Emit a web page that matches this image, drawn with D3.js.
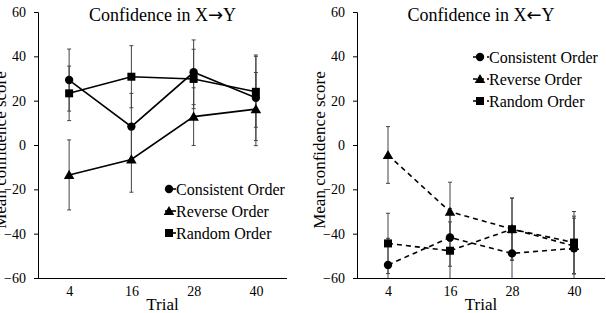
<!DOCTYPE html>
<html>
<head>
<meta charset="utf-8">
<script src="https://cdn.jsdelivr.net/npm/d3@7"></script>
<style>
  body { margin: 0; background: #fff; }
  svg text { font-family: 'Liberation Serif', 'DejaVu Serif', 'Times New Roman', serif; }
  svg text tspan.arrow { font-family: 'DejaVu Sans', sans-serif; }
</style>
</head>
<body>
<div id="chart"></div>
<script>
// data
const trials = ['4', '16', '28', '40'];
const seriesNames = ['Consistent Order', 'Reverse Order', 'Random Order'];
const yTicks = [-60, -40, -20, 0, 20, 40, 60];

// Confidence in X->Y
const fwdConsistent = [29.3, 8.3, 32.8, 21.3];
const fwdReverse = [-13.5, -6.5, 12.8, 16.2];
const fwdRandom = [23.3, 30.8, 29.8, 24.0];
const fwdConsistentErr = [14.0, 15.0, 14.6, 19.3];
const fwdReverseErr = [15.8, 14.8, 13.0, 16.5];
const fwdRandomErr = [12.3, 14.0, 13.4, 16.0];

// Confidence in X<-Y
const bwdConsistent = [-54.1, -41.7, -48.9, -46.6];
const bwdReverse = [-4.5, -30.1, -37.9, -45.6];
const bwdRandom = [-44.4, -47.7, -38.0, -44.0];
const bwdConsistentErr = [12.0, 13.0, 12.0, 14.5];
const bwdReverseErr = [12.8, 13.3, 14.0, 12.6];
const bwdRandomErr = [13.6, 13.0, 14.0, 14.0];

const W = 606, H = 313;
const FONT = "'Liberation Serif', 'DejaVu Serif', serif";
const svg = d3.select('#chart').append('svg')
  .attr('width', W)
  .attr('height', H)
  .attr('font-family', FONT);

const symbols = [d3.symbolCircle, d3.symbolTriangle, d3.symbolSquare];
const symbolSizes = [55, 48, 64];

const drawPanel = (opts) => {
  const { left, right, top, bottom, title, arrow, values, errors, dashed, legendX, legendY } = opts;

  const x = d3.scalePoint().domain(trials).range([left, right]).padding(0.5);
  const y = d3.scaleLinear().domain([-60, 60]).range([bottom, top]);
  const g = svg.append('g');

  // y axis
  const yAxis = g.append('g')
    .attr('transform', `translate(${left},0)`)
    .call(d3.axisLeft(y).tickValues(yTicks).tickSize(4).tickPadding(8).tickFormat(d3.format('d')))
    .attr('font-family', FONT)
    .attr('font-size', 14);
  yAxis.select('.domain').attr('stroke', '#000');
  yAxis.selectAll('.tick line').attr('stroke', '#000');
  yAxis.selectAll('.tick text').attr('fill', '#000');

  // x axis (line only, labels underneath)
  const xAxis = g.append('g')
    .attr('transform', `translate(0,${bottom})`)
    .call(d3.axisBottom(x).tickSize(0).tickPadding(8).tickSizeOuter(0))
    .attr('font-family', FONT)
    .attr('font-size', 14);
  xAxis.select('.domain').attr('stroke', '#000').attr('d', `M${left},0.5H${right}`);
  xAxis.selectAll('.tick text').attr('fill', '#000');

  // axis titles
  g.append('text')
    .attr('x', (left + right) / 2)
    .attr('y', H - 3)
    .attr('text-anchor', 'middle')
    .attr('font-size', 17)
    .text('Trial');

  g.append('text')
    .attr('transform', `translate(${left - 32},${(top + bottom) / 2 + 5}) rotate(-90)`)
    .attr('text-anchor', 'middle')
    .attr('font-size', 17)
    .text('Mean confidence score');

  const t = g.append('text')
    .attr('x', (left + right) / 2)
    .attr('y', 21)
    .attr('text-anchor', 'middle')
    .attr('font-size', 18);
  t.append('tspan').text(title + 'X');
  t.append('tspan').attr('class', 'arrow').text(arrow);
  t.append('tspan').text('Y');

  const clampY = v => y(Math.max(-60, Math.min(60, v)));

  // error bars
  values.forEach((vals, si) => {
    const eb = g.append('g').attr('stroke', '#444').attr('stroke-width', 1);
    vals.forEach((v, i) => {
      const cx = x(trials[i]);
      const e = errors[si][i];
      eb.append('line').attr('x1', cx).attr('x2', cx)
        .attr('y1', clampY(v + e)).attr('y2', clampY(v - e));
      [v + e, v - e].forEach(c => {
        if (c <= 60 && c >= -60) {
          eb.append('line').attr('x1', cx - 2).attr('x2', cx + 2)
            .attr('y1', y(c)).attr('y2', y(c));
        }
      });
    });
  });

  // lines
  const line = d3.line().x((d, i) => x(trials[i])).y(d => y(d));
  values.forEach((vals) => {
    g.append('path')
      .datum(vals)
      .attr('fill', 'none')
      .attr('stroke', '#000')
      .attr('stroke-width', 1.6)
      .attr('stroke-dasharray', dashed ? '5,4' : null)
      .attr('d', line);
  });

  // markers
  values.forEach((vals, si) => {
    g.selectAll(null)
      .data(vals)
      .enter()
      .append('path')
      .attr('transform', (d, i) => `translate(${x(trials[i])},${y(d) + (si === 1 ? 1 : 0)})`)
      .attr('d', d3.symbol().type(symbols[si]).size(symbolSizes[si]))
      .attr('fill', '#000');
  });

  // legend
  const lg = g.append('g').attr('transform', `translate(${legendX},${legendY})`);
  seriesNames.forEach((name, si) => {
    const row = lg.append('g').attr('transform', `translate(0,${si * 22})`);
    row.append('line')
      .attr('x1', 0).attr('x2', dashed ? 16 : 11)
      .attr('y1', 0).attr('y2', 0)
      .attr('stroke', '#000')
      .attr('stroke-width', 1.6)
      .attr('stroke-dasharray', dashed ? '4,3' : null);
    row.append('path')
      .attr('transform', `translate(${dashed ? 7 : 4},${si === 1 ? 1 : 0})`)
      .attr('d', d3.symbol().type(symbols[si]).size(symbolSizes[si]))
      .attr('fill', '#000');
    row.append('text')
      .attr('x', dashed ? 16 : 11)
      .attr('y', 5.5)
      .attr('font-size', 16)
      .text(name);
  });
};

drawPanel({
  left: 38, right: 287, top: 12, bottom: 278,
  title: 'Confidence in ', arrow: '\u2192',
  values: [fwdConsistent, fwdReverse, fwdRandom],
  errors: [fwdConsistentErr, fwdReverseErr, fwdRandomErr],
  dashed: false,
  legendX: 165, legendY: 189
});

drawPanel({
  left: 357, right: 605, top: 12, bottom: 278,
  title: 'Confidence in ', arrow: '\u2190',
  values: [bwdConsistent, bwdReverse, bwdRandom],
  errors: [bwdConsistentErr, bwdReverseErr, bwdRandomErr],
  dashed: true,
  legendX: 473, legendY: 57
});
</script>
</body>
</html>
